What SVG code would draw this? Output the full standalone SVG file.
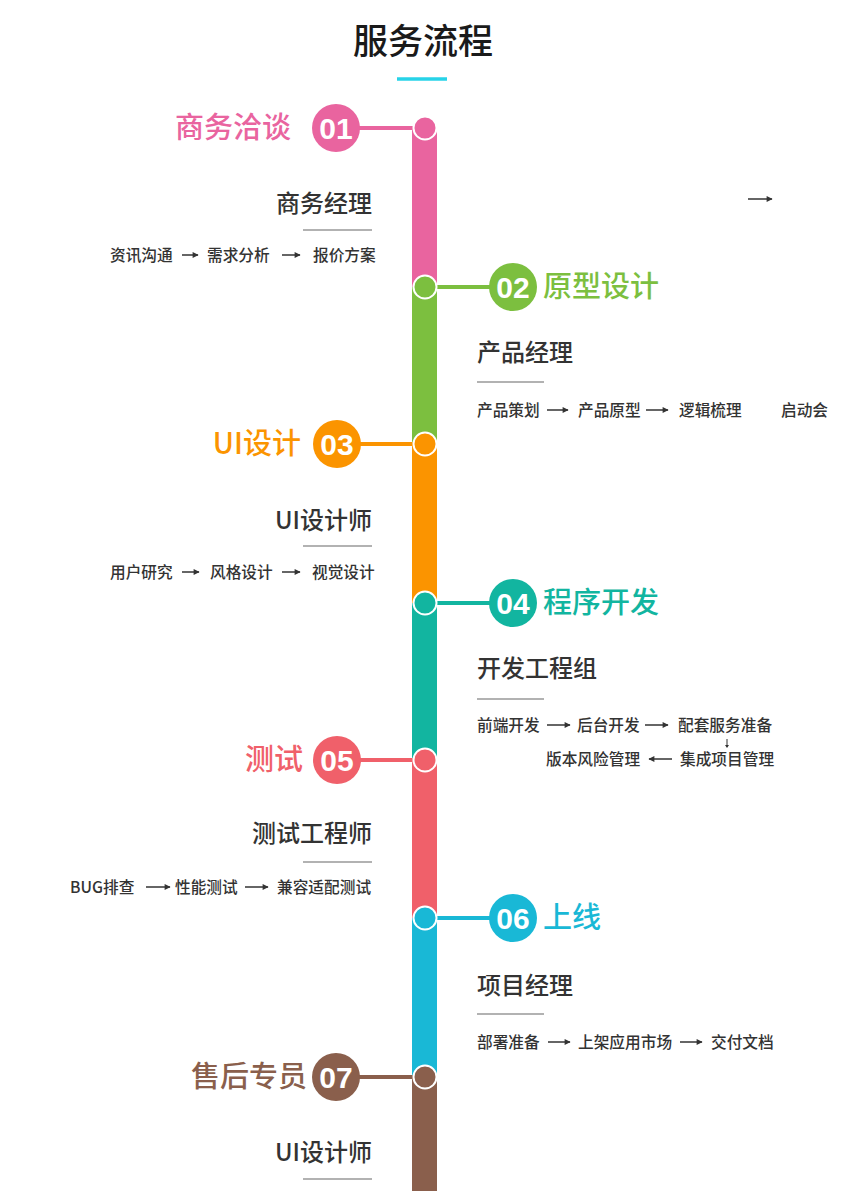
<svg xmlns="http://www.w3.org/2000/svg" width="848" height="1191" viewBox="0 0 848 1191">
<defs>
<style>
text{font-family:"Noto Sans CJK SC","Liberation Sans",sans-serif}
.title{font-size:35px;fill:#1a1a1a;text-anchor:middle;font-weight:500}
.lbl{font-size:29px;font-weight:500}
.num{font-family:"Liberation Sans","Noto Sans",sans-serif;font-weight:bold;font-size:30px;fill:#fff;text-anchor:middle}
.sub{font-size:24px;fill:#333;font-weight:500}
.st{font-size:15.7px;fill:#333;font-weight:500}
.ul{stroke:#999;stroke-width:1.5}
.ar{stroke:#333;stroke-width:1.5;fill:none;marker-end:url(#ah)}
.dot{stroke:#fff;stroke-width:2}
.conn{stroke-width:4}
</style>
<marker id="ah" viewBox="0 0 10 10" refX="9" refY="5" markerWidth="7" markerHeight="6" orient="auto" markerUnits="userSpaceOnUse">
<path d="M0,0 L10,5 L0,10 z" fill="#333"/>
</marker>
</defs>
<rect width="848" height="1191" fill="#fff"/>
<g id="title">
<text class="title" x="423" y="54">服务流程</text>
<line x1="397" y1="79" x2="447" y2="79" stroke="#27d3e8" stroke-width="3.5"/>
</g>
<g id="timeline">
<rect x="412" y="128" width="25" height="159" fill="#e9649f"/>
<rect x="412" y="287" width="25" height="157" fill="#7cbf3f"/>
<rect x="412" y="444" width="25" height="159" fill="#fb9400"/>
<rect x="412" y="603" width="25" height="157" fill="#12b5a0"/>
<rect x="412" y="760" width="25" height="158" fill="#f0606a"/>
<rect x="412" y="918" width="25" height="159" fill="#19b8d6"/>
<rect x="412" y="1077" width="25" height="114" fill="#8a5f4c"/>
</g>
<g id="connectors">
<line class="conn" x1="358" y1="128" x2="414" y2="128" stroke="#e9649f"/>
<line class="conn" x1="436" y1="287" x2="492" y2="287" stroke="#7cbf3f"/>
<line class="conn" x1="358" y1="444" x2="414" y2="444" stroke="#fb9400"/>
<line class="conn" x1="436" y1="603" x2="492" y2="603" stroke="#12b5a0"/>
<line class="conn" x1="358" y1="760" x2="414" y2="760" stroke="#f0606a"/>
<line class="conn" x1="436" y1="918" x2="492" y2="918" stroke="#19b8d6"/>
<line class="conn" x1="358" y1="1077" x2="414" y2="1077" stroke="#8a5f4c"/>
</g>
<g id="step01">
<circle class="dot" cx="425" cy="128" r="11.5" fill="#e9649f"/>
<circle cx="336" cy="128" r="24" fill="#e9649f"/>
<text class="num" x="336" y="139">01</text>
<text class="lbl" x="291" y="138" text-anchor="end" fill="#e9649f">商务洽谈</text>
<text class="sub" x="372" y="211.5" text-anchor="end">商务经理</text>
<line class="ul" x1="303" y1="230" x2="372" y2="230"/>
<text class="st" x="110" y="260.5">资讯沟通</text>
<path class="ar" d="M182,255 H198"/>
<text class="st" x="207" y="260.5">需求分析</text>
<path class="ar" d="M282,255 H300"/>
<text class="st" x="313" y="260.5">报价方案</text>
<path class="ar" d="M748,199 H772"/>
</g>
<g id="step02">
<circle class="dot" cx="425" cy="287" r="11.5" fill="#7cbf3f"/>
<circle cx="513" cy="287" r="24" fill="#7cbf3f"/>
<text class="num" x="513" y="298">02</text>
<text class="lbl" x="543" y="297" fill="#7cbf3f">原型设计</text>
<text class="sub" x="477" y="361">产品经理</text>
<line class="ul" x1="477" y1="382" x2="544" y2="382"/>
<text class="st" x="477" y="415.5">产品策划</text>
<path class="ar" d="M547,410 H568"/>
<text class="st" x="578" y="415.5">产品原型</text>
<path class="ar" d="M646,410 H668"/>
<text class="st" x="679" y="415.5">逻辑梳理</text>
<text class="st" x="781" y="415.5">启动会</text>
</g>
<g id="step03">
<circle class="dot" cx="425" cy="444" r="11.5" fill="#fb9400"/>
<circle cx="337" cy="444" r="24" fill="#fb9400"/>
<text class="num" x="337" y="455">03</text>
<text class="lbl" x="301" y="454" text-anchor="end" fill="#fb9400">UI设计</text>
<text class="sub" x="372" y="528.5" text-anchor="end">UI设计师</text>
<line class="ul" x1="303" y1="546" x2="372" y2="546"/>
<text class="st" x="110" y="577.5">用户研究</text>
<path class="ar" d="M182,572 H199"/>
<text class="st" x="210" y="577.5">风格设计</text>
<path class="ar" d="M282,572 H300"/>
<text class="st" x="312" y="577.5">视觉设计</text>
</g>
<g id="step04">
<circle class="dot" cx="425" cy="603" r="11.5" fill="#12b5a0"/>
<circle cx="513" cy="603" r="24" fill="#12b5a0"/>
<text class="num" x="513" y="614">04</text>
<text class="lbl" x="543" y="613" fill="#12b5a0">程序开发</text>
<text class="sub" x="477" y="677">开发工程组</text>
<line class="ul" x1="477" y1="699" x2="544" y2="699"/>
<text class="st" x="477" y="730.5">前端开发</text>
<path class="ar" d="M547,725 H570"/>
<text class="st" x="577" y="730.5">后台开发</text>
<path class="ar" d="M645,725 H668"/>
<text class="st" x="678" y="730.5">配套服务准备</text>
<path d="M727,739 V747" stroke="#333" stroke-width="1"/>
<path d="M725,745 L727,748 L729,745 z" fill="#333"/>
<text class="st" x="546" y="764.5">版本风险管理</text>
<path class="ar" d="M672,759 H649"/>
<text class="st" x="680" y="764.5">集成项目管理</text>
</g>
<g id="step05">
<circle class="dot" cx="425" cy="760" r="11.5" fill="#f0606a"/>
<circle cx="337" cy="760" r="24" fill="#f0606a"/>
<text class="num" x="337" y="771">05</text>
<text class="lbl" x="303" y="770" text-anchor="end" fill="#f0606a">测试</text>
<text class="sub" x="372" y="841.5" text-anchor="end">测试工程师</text>
<line class="ul" x1="303" y1="862" x2="372" y2="862"/>
<text class="st" x="70" y="892.5">BUG排查</text>
<path class="ar" d="M146,887 H170"/>
<text class="st" x="175" y="892.5">性能测试</text>
<path class="ar" d="M245,887 H268"/>
<text class="st" x="277" y="892.5">兼容适配测试</text>
</g>
<g id="step06">
<circle class="dot" cx="425" cy="918" r="11.5" fill="#19b8d6"/>
<circle cx="513" cy="918" r="24" fill="#19b8d6"/>
<text class="num" x="513" y="929">06</text>
<text class="lbl" x="543" y="928" fill="#19b8d6">上线</text>
<text class="sub" x="477" y="994">项目经理</text>
<line class="ul" x1="477" y1="1014" x2="544" y2="1014"/>
<text class="st" x="477" y="1047.5">部署准备</text>
<path class="ar" d="M548,1042 H570"/>
<text class="st" x="578" y="1047.5">上架应用市场</text>
<path class="ar" d="M680,1042 H702"/>
<text class="st" x="711" y="1047.5">交付文档</text>
</g>
<g id="step07">
<circle class="dot" cx="425" cy="1077" r="11.5" fill="#8a5f4c"/>
<circle cx="336" cy="1077" r="24" fill="#8a5f4c"/>
<text class="num" x="336" y="1088">07</text>
<text class="lbl" x="307" y="1087" text-anchor="end" fill="#8a5f4c">售后专员</text>
<text class="sub" x="372" y="1160.5" text-anchor="end">UI设计师</text>
<line class="ul" x1="303" y1="1179" x2="372" y2="1179"/>
</g>
</svg>
